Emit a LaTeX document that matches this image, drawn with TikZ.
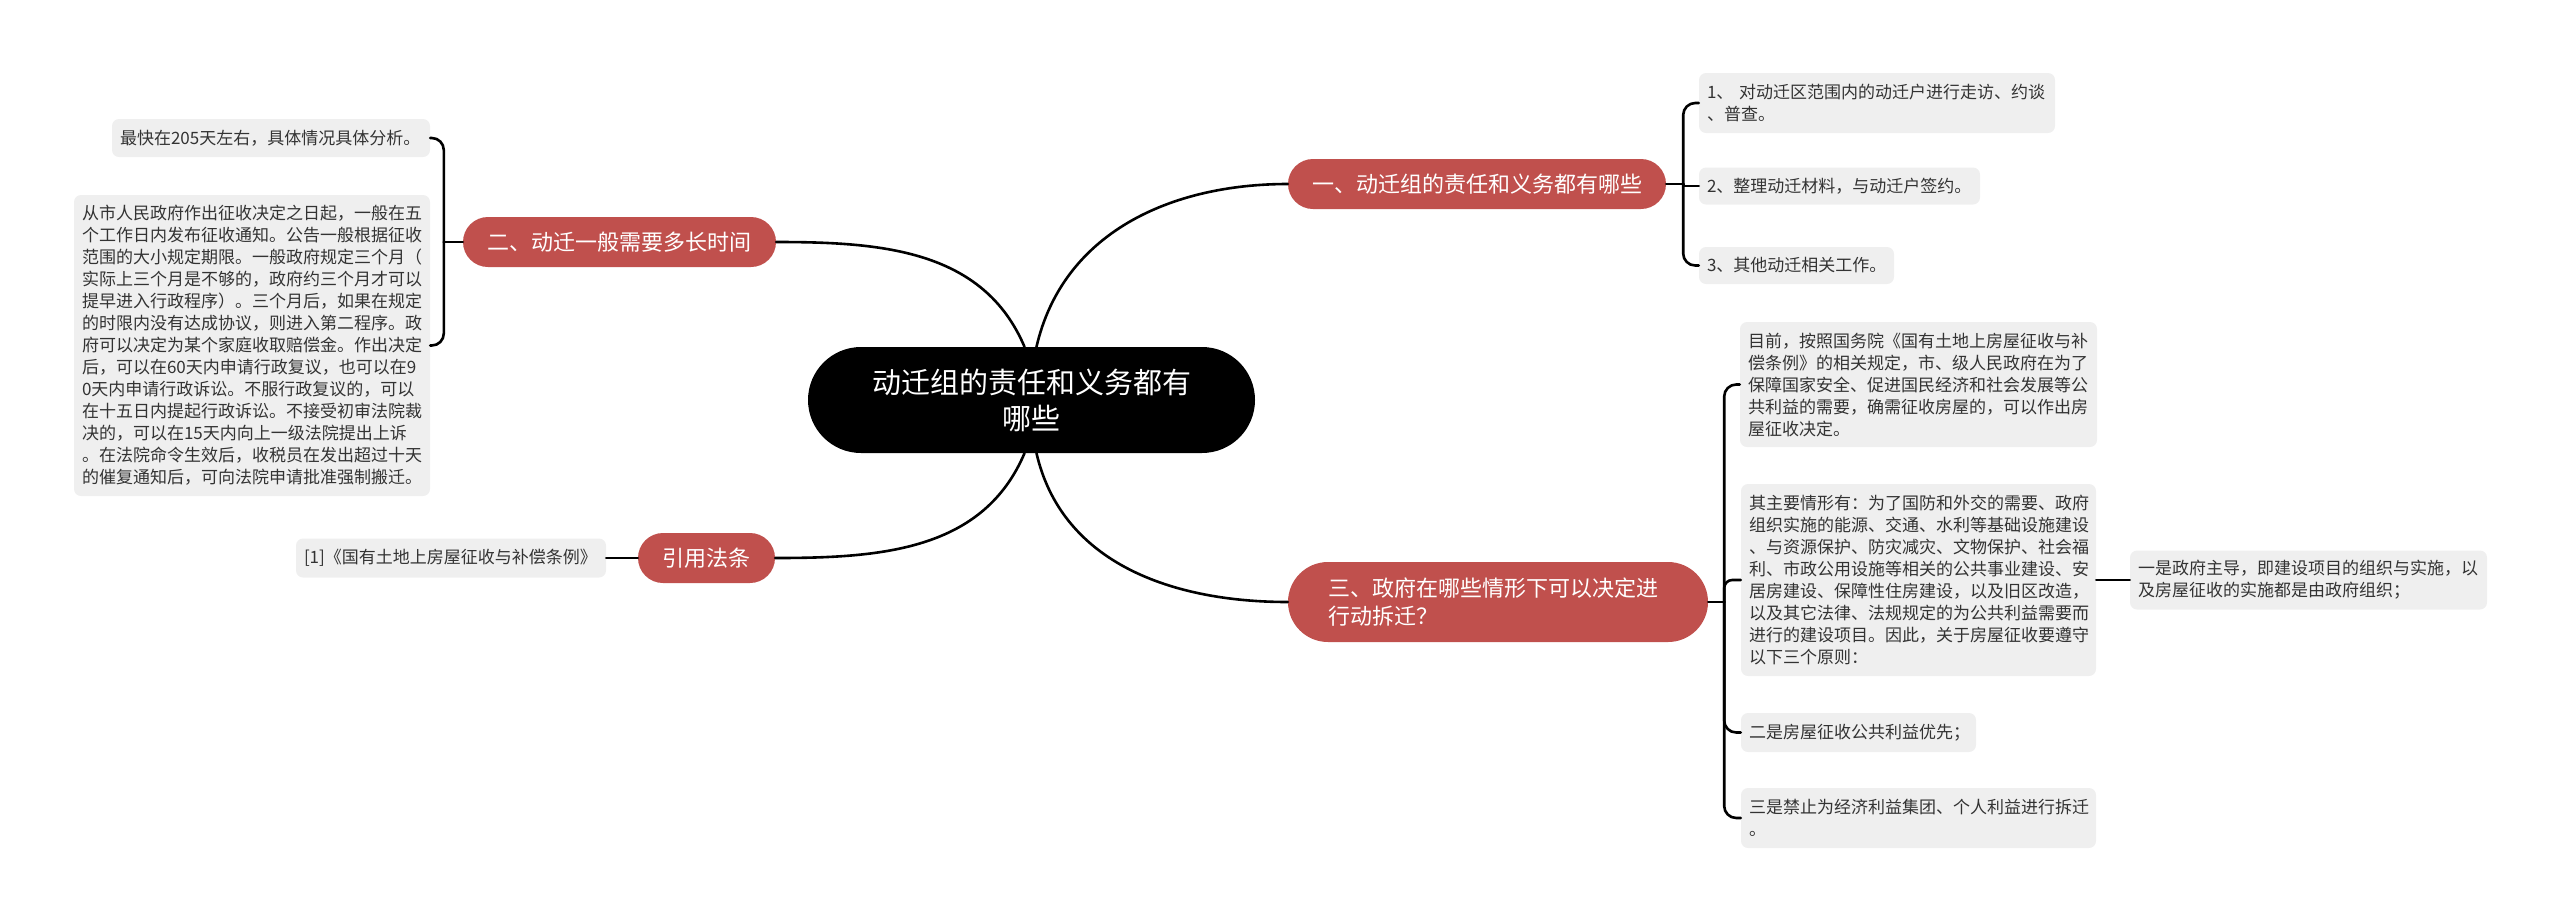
\documentclass[tikz,border=0pt]{standalone}
\usepackage{fontspec}
\setmainfont{Noto Sans CJK SC}
\usetikzlibrary{positioning}
\definecolor{branchred}{RGB}{192,80,77}
\definecolor{leafgray}{RGB}{239,239,239}
\definecolor{leaftext}{RGB}{51,51,51}

\begin{document}
\begin{tikzpicture}[x=1pt, y=-1pt,
  leaf/.style={fill=leafgray, rounded corners=7pt, text=leaftext, align=left, inner xsep=8pt, inner ysep=0pt, font=\fontsize{17}{22}\selectfont},
  branch/.style={fill=branchred, text=white, align=center, inner sep=0pt, font=\fontsize{22}{28}\selectfont},
  link/.style={line width=2.6pt, line cap=round}]
\useasboundingbox (0,0) rectangle (2560,922);

\node[fill=black, text=white, align=center, rounded corners=53pt, minimum width=447pt, minimum height=106pt, inner sep=0pt, font=\fontsize{29}{36}\selectfont] (root) at (1031.5,400) {动迁组的责任和义务都有\\哪些};

\node[branch, rounded corners=25pt, minimum width=378pt, minimum height=50pt] (b1) at (1477,184) {一、动迁组的责任和义务都有哪些};
\node[branch, rounded corners=25pt, minimum width=313pt, minimum height=50pt] (b2) at (619.5,242) {二、动迁一般需要多长时间};
\node[branch, rounded corners=40pt, minimum width=420pt, minimum height=80pt, text width=340pt, align=left] (b3) at (1498,602) {三、政府在哪些情形下可以决定进\\行动拆迁？};
\node[branch, rounded corners=25pt, minimum width=137pt, minimum height=50pt] (b4) at (706.5,558) {引用法条};

\node[leaf, text width=340pt, minimum height=60pt] (l1) at (1877,103) {1、 对动迁区范围内的动迁户进行走访、约谈\\、普查。};
\node[leaf, text width=265pt, minimum height=37pt] (l2) at (1839.5,186) {2、整理动迁材料，与动迁户签约。};
\node[leaf, text width=179pt, minimum height=37pt] (l3) at (1796.5,265.5) {3、其他动迁相关工作。};

\node[leaf, text width=302pt, minimum height=38pt] (lA) at (271,138) {最快在205天左右，具体情况具体分析。};
\node[leaf, text width=340pt, minimum height=301pt] (lB) at (252,345.5) {从市人民政府作出征收决定之日起，一般在五\\个工作日内发布征收通知。公告一般根据征收\\范围的大小规定期限。一般政府规定三个月（\\实际上三个月是不够的，政府约三个月才可以\\提早进入行政程序）。三个月后，如果在规定\\的时限内没有达成协议，则进入第二程序。政\\府可以决定为某个家庭收取赔偿金。作出决定\\后，可以在60天内申请行政复议，也可以在9\\0天内申请行政诉讼。不服行政复议的，可以\\在十五日内提起行政诉讼。不接受初审法院裁\\决的，可以在15天内向上一级法院提出上诉\\。在法院命令生效后，收税员在发出超过十天\\的催复通知后，可向法院申请批准强制搬迁。};

\node[leaf, text width=294pt, minimum height=39pt] (lC) at (451,558) {[1]《国有土地上房屋征收与补偿条例》};

\node[leaf, text width=341pt, minimum height=125pt] (lD) at (1918.5,384.5) {目前，按照国务院《国有土地上房屋征收与补\\偿条例》的相关规定，市、级人民政府在为了\\保障国家安全、促进国民经济和社会发展等公\\共利益的需要，确需征收房屋的，可以作出房\\屋征收决定。};
\node[leaf, text width=339pt, minimum height=192pt] (lE) at (1918.5,580) {其主要情形有：为了国防和外交的需要、政府\\组织实施的能源、交通、水利等基础设施建设\\、与资源保护、防灾减灾、文物保护、社会福\\利、市政公用设施等相关的公共事业建设、安\\居房建设、保障性住房建设，以及旧区改造，\\以及其它法律、法规规定的为公共利益需要而\\进行的建设项目。因此，关于房屋征收要遵守\\以下三个原则：};
\node[leaf, text width=219pt, minimum height=39pt] (lF) at (1858.5,732.5) {二是房屋征收公共利益优先；};
\node[leaf, text width=339pt, minimum height=60pt] (lG) at (1918.5,818) {三是禁止为经济利益集团、个人利益进行拆迁\\。};
\node[leaf, text width=341pt, minimum height=59pt] (lH) at (2308.5,580) {一是政府主导，即建设项目的组织与实施，以\\及房屋征收的实施都是由政府组织；};

\coordinate[right=17pt of b1] (j1);
\coordinate[left=19pt of b2] (j2);
\coordinate[right=16pt of b3] (j3);

\draw[link] ([xshift=5pt]root.north) to[out=77,in=180] (b1.west);
\draw[link] ([xshift=-7pt]root.north) to[out=113,in=0] (b2.east);
\draw[link] ([xshift=5pt]root.south) to[out=-77,in=180] (b3.west);
\draw[link] ([xshift=-7pt]root.south) to[out=-113,in=0] (b4.east);

\draw[link] (b1.east) -- (j1);
\draw[link, rounded corners=12pt] (j1) |- (l1.west);
\draw[link] (j1) |- (l2.west);
\draw[link, rounded corners=12pt] (j1) |- (l3.west);

\draw[link] (b2.west) -- (j2);
\draw[link, rounded corners=12pt] (j2) |- (lA.east);
\draw[link, rounded corners=12pt] (j2) |- (lB.east);

\draw[link] (b3.east) -- (j3);
\draw[link, rounded corners=12pt] (j3) |- (lD.west);
\draw[link, rounded corners=8pt] (j3) |- (lE.west);
\draw[link, rounded corners=12pt] (j3) |- (lF.west);
\draw[link, rounded corners=12pt] (j3) |- (lG.west);

\draw[link] (lE.east) -- (lH.west);
\draw[link] (b4.west) -- (lC.east);
\end{tikzpicture}
\end{document}
